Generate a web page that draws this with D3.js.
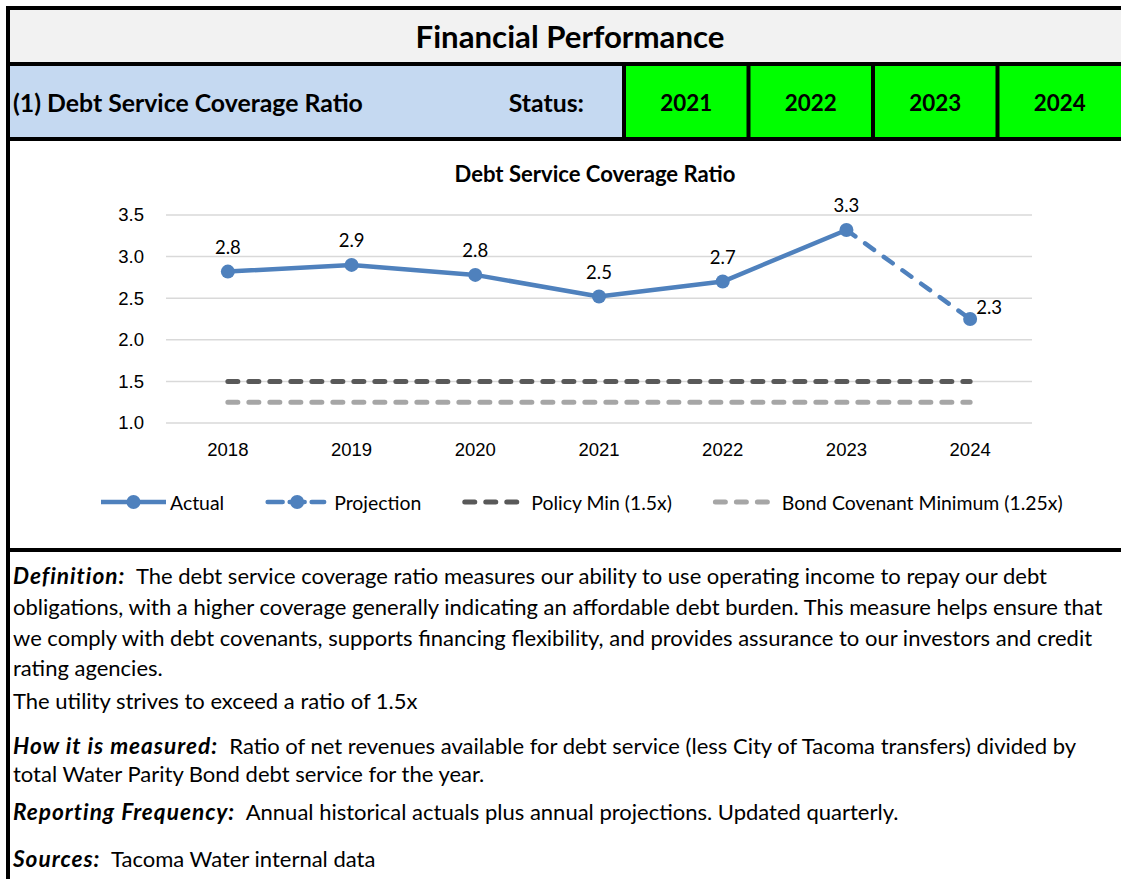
<!DOCTYPE html>
<html>
<head>
  <meta charset="UTF-8" />
  <title>Financial Performance - Debt Service Coverage Ratio</title>
  <script src="https://d3js.org/d3.v7.min.js"></script>
  <style>
    body { margin: 0; background: #fff; }
    svg { display: block; font-family: Lato, "Open Sans", sans-serif; fill: #000; }
    .grid line { stroke: #d9d9d9; stroke-width: 1.5; }
    .border { stroke: #000; stroke-width: 4; }
    .series { fill: none; stroke-linecap: round; stroke-linejoin: round; }
    text { white-space: pre; }
  </style>
</head>
<body>
  <svg id="sheet" width="1121" height="879"></svg>
  <script>
    // chart data
    const years = ["2018", "2019", "2020", "2021", "2022", "2023", "2024"];
    const actual = [2.82, 2.90, 2.78, 2.52, 2.70, 3.32, null];
    const projection = [null, null, null, null, null, 3.32, 2.25];
    const policyMin = [1.5, 1.5, 1.5, 1.5, 1.5, 1.5, 1.5];
    const bondMin = [1.25, 1.25, 1.25, 1.25, 1.25, 1.25, 1.25];
    const yTicks = [1.0, 1.5, 2.0, 2.5, 3.0, 3.5];

    // header row
    const statusYears = ["2021", "2022", "2023", "2024"];

    const legendLabels = ["Actual", "Projection", "Policy Min (1.5x)", "Bond Covenant Minimum (1.25x)"];

    // text block below the chart: [bold italic lead, rest, center y]
    const notes = [
      ["Definition:", "  The debt service coverage ratio measures our ability to use operating income to repay our debt", 575],
      ["", "obligations, with a higher coverage generally indicating an affordable debt burden. This measure helps ensure that", 606],
      ["", "we comply with debt covenants, supports financing flexibility, and provides assurance to our investors and credit", 637],
      ["", "rating agencies.", 667],
      ["", "The utility strives to exceed a ratio of 1.5x", 700],
      ["How it is measured:", "  Ratio of net revenues available for debt service (less City of Tacoma transfers) divided by", 745],
      ["", "total Water Parity Bond debt service for the year.", 773],
      ["Reporting Frequency:", "  Annual historical actuals plus annual projections. Updated quarterly.", 811],
      ["Sources:", "  Tacoma Water internal data", 858]
    ];

    const blue = "#4f81bd", darkGrey = "#595959", lightGrey = "#a6a6a6";

    const svg = d3.select("#sheet");

    // the installed fonts are not Calibri, so size each text style to the width it has in the sheet
    function textWidth(str, size, weight, style) {
      const t = svg.append("text")
        .attr("font-size", size)
        .attr("font-weight", weight)
        .attr("font-style", style || "normal")
        .text(str);
      const w = t.node().getComputedTextLength();
      t.remove();
      return w;
    }
    const fitSize = (str, weight, width, style) => 100 * width / textWidth(str, 100, weight, style);

    const titleSize = fitSize("Financial Performance", "bold", 309);
    const rowSize = fitSize("(1) Debt Service Coverage Ratio", "bold", 350);
    const yearSize = fitSize("2021", "bold", 52);
    const chartTitleSize = fitSize("Debt Service Coverage Ratio", "bold", 281);
    const tickSize = fitSize("2018", "normal", 43);
    const legendSize = fitSize("Bond Covenant Minimum (1.25x)", "normal", 281);
    // regular body text: fitted on a few whole lines together
    const bodySize = fitSize(notes[1][1] + notes[2][1] + notes[6][1] + notes[7][1].trim(), "normal", 1112 + 1057 + 461 + 662);
    // lead words: Calibri bold italic is wider, so open up the letters instead of enlarging them
    const leadSize = bodySize * 1.03;
    const leadStr = "How it is measured:";
    const leadSpacing = (205 - textWidth(leadStr, leadSize, "bold", "italic")) / leadStr.length;

    // ---- sheet backgrounds and borders ----
    svg.append("rect").attr("x", 8).attr("y", 8).attr("width", 1120).attr("height", 56).attr("fill", "#f2f2f2");
    svg.append("rect").attr("x", 8).attr("y", 64).attr("width", 616).attr("height", 75).attr("fill", "#c5d9f1");

    const cell = d3.scaleBand().domain(statusYears).range([624, 1122]);
    svg.selectAll("rect.status")
      .data(statusYears)
      .join("rect")
      .attr("class", "status")
      .attr("x", d => cell(d))
      .attr("y", 64)
      .attr("width", cell.bandwidth())
      .attr("height", 75)
      .attr("fill", "#00ff00");

    [8, 64, 139, 550].forEach(y => {
      svg.append("line").attr("class", "border").attr("x1", 6).attr("x2", 1130).attr("y1", y).attr("y2", y);
    });
    svg.append("line").attr("class", "border").attr("x1", 8).attr("x2", 8).attr("y1", 6).attr("y2", 890);
    statusYears.forEach(d => {
      svg.append("line").attr("class", "border")
        .attr("x1", cell(d)).attr("x2", cell(d)).attr("y1", 64).attr("y2", 139);
    });

    // ---- header texts ----
    svg.append("text")
      .attr("x", 570).attr("y", 36)
      .attr("text-anchor", "middle").attr("dominant-baseline", "central")
      .attr("font-size", titleSize).attr("font-weight", "bold")
      .text("Financial Performance");

    svg.append("text")
      .attr("x", 13).attr("y", 102)
      .attr("dominant-baseline", "central")
      .attr("font-size", rowSize).attr("font-weight", "bold")
      .text("(1) Debt Service Coverage Ratio");

    svg.append("text")
      .attr("x", 584).attr("y", 102)
      .attr("text-anchor", "end").attr("dominant-baseline", "central")
      .attr("font-size", rowSize).attr("font-weight", "bold")
      .text("Status:");

    svg.selectAll("text.status")
      .data(statusYears)
      .join("text")
      .attr("class", "status")
      .attr("x", d => cell(d) + cell.bandwidth() / 2)
      .attr("y", 102)
      .attr("text-anchor", "middle").attr("dominant-baseline", "central")
      .attr("font-size", yearSize).attr("font-weight", "bold")
      .text(d => d);

    // ---- chart ----
    const x = d3.scaleBand().domain(years).range([166, 1032]);
    const cx = d => x(d) + x.bandwidth() / 2;
    const y = d3.scaleLinear().domain([1, 3.5]).range([423, 215]);

    const chart = svg.append("g");

    chart.append("text")
      .attr("x", 595).attr("y", 173)
      .attr("text-anchor", "middle").attr("dominant-baseline", "central")
      .attr("font-size", chartTitleSize).attr("font-weight", "bold")
      .text("Debt Service Coverage Ratio");

    chart.append("g")
      .attr("class", "grid")
      .selectAll("line")
      .data(yTicks)
      .join("line")
      .attr("x1", 166).attr("x2", 1032)
      .attr("y1", d => y(d)).attr("y2", d => y(d));

    const yAxis = chart.append("g")
      .attr("transform", "translate(166,0)")
      .call(d3.axisLeft(y).tickValues(yTicks).tickFormat(d3.format(".1f")).tickSize(0).tickPadding(22));
    yAxis.select(".domain").remove();
    yAxis.selectAll("text").attr("font-size", tickSize).attr("font-family", null).attr("fill", "#000");

    const xAxis = chart.append("g")
      .attr("transform", "translate(0,423)")
      .call(d3.axisBottom(x).tickSize(0).tickPadding(20));
    xAxis.select(".domain").remove();
    xAxis.selectAll("text").attr("font-size", tickSize).attr("font-family", null).attr("fill", "#000");

    const line = d3.line()
      .defined(d => d.v !== null)
      .x(d => cx(d.year))
      .y(d => y(d.v));
    const rows = arr => years.map((year, i) => ({ year, v: arr[i] }));

    chart.append("path").datum(rows(bondMin))
      .attr("class", "series").attr("d", line)
      .attr("stroke", lightGrey).attr("stroke-width", 5).attr("stroke-dasharray", "10,11");
    chart.append("path").datum(rows(policyMin))
      .attr("class", "series").attr("d", line)
      .attr("stroke", darkGrey).attr("stroke-width", 5).attr("stroke-dasharray", "10,11");
    chart.append("path").datum(rows(projection))
      .attr("class", "series").attr("d", line)
      .attr("stroke", blue).attr("stroke-width", 4.5).attr("stroke-dasharray", "11,12");
    chart.append("path").datum(rows(actual))
      .attr("class", "series").attr("d", line)
      .attr("stroke", blue).attr("stroke-width", 4.5);

    const points = rows(actual).filter(d => d.v !== null)
      .concat(rows(projection).filter(d => d.v !== null && actual[years.indexOf(d.year)] === null));

    chart.selectAll("circle.pt")
      .data(points)
      .join("circle")
      .attr("class", "pt")
      .attr("cx", d => cx(d.year))
      .attr("cy", d => y(d.v))
      .attr("r", 7)
      .attr("fill", blue);

    // data labels: above the point, the last one to the right
    chart.selectAll("text.lbl")
      .data(points)
      .join("text")
      .attr("class", "lbl")
      .attr("x", (d, i) => i === points.length - 1 ? cx(d.year) + 6 : cx(d.year))
      .attr("y", (d, i) => i === points.length - 1 ? y(d.v) - 12 : y(d.v) - 25)
      .attr("text-anchor", (d, i) => i === points.length - 1 ? "start" : "middle")
      .attr("dominant-baseline", "central")
      .attr("font-size", tickSize)
      .text(d => d3.format(".1f")(d.v));

    // ---- legend ----
    const legendItems = [
      { label: legendLabels[0], color: blue, width: 4.5, dash: null, marker: true },
      { label: legendLabels[1], color: blue, width: 4.5, dash: "15,7", marker: true },
      { label: legendLabels[2], color: darkGrey, width: 5, dash: "10,11", marker: false },
      { label: legendLabels[3], color: lightGrey, width: 5, dash: "10,11", marker: false }
    ];
    const legend = chart.append("g").attr("transform", "translate(0,502)");
    let lx = 101;
    legendItems.forEach(item => {
      const g = legend.append("g").attr("transform", `translate(${lx},0)`);
      const solid = !item.dash;
      g.append("line")
        .attr("x1", solid ? 0 : 2.5).attr("x2", solid ? 65 : 59)
        .attr("y1", 0).attr("y2", 0)
        .attr("stroke", item.color).attr("stroke-width", item.width)
        .attr("stroke-linecap", solid ? "butt" : "round")
        .attr("stroke-dasharray", item.dash);
      if (item.marker) {
        g.append("circle").attr("cx", solid ? 32.5 : 32).attr("cy", 0).attr("r", 7).attr("fill", item.color);
      }
      const t = g.append("text")
        .attr("x", 69).attr("y", 0)
        .attr("dominant-baseline", "central")
        .attr("font-size", legendSize)
        .text(item.label);
      lx += 69 + t.node().getComputedTextLength() + 41;
    });

    // ---- notes ----
    const noteText = svg.append("g")
      .selectAll("text")
      .data(notes)
      .join("text")
      .attr("x", 13)
      .attr("y", d => d[2])
      .attr("dominant-baseline", "central")
      .attr("font-size", bodySize);
    noteText.append("tspan")
      .attr("font-weight", "bold").attr("font-style", "italic")
      .attr("font-size", leadSize)
      .attr("letter-spacing", leadSpacing)
      .text(d => d[0]);
    noteText.append("tspan").attr("letter-spacing", 0).text(d => d[1]);
  </script>
</body>
</html>
